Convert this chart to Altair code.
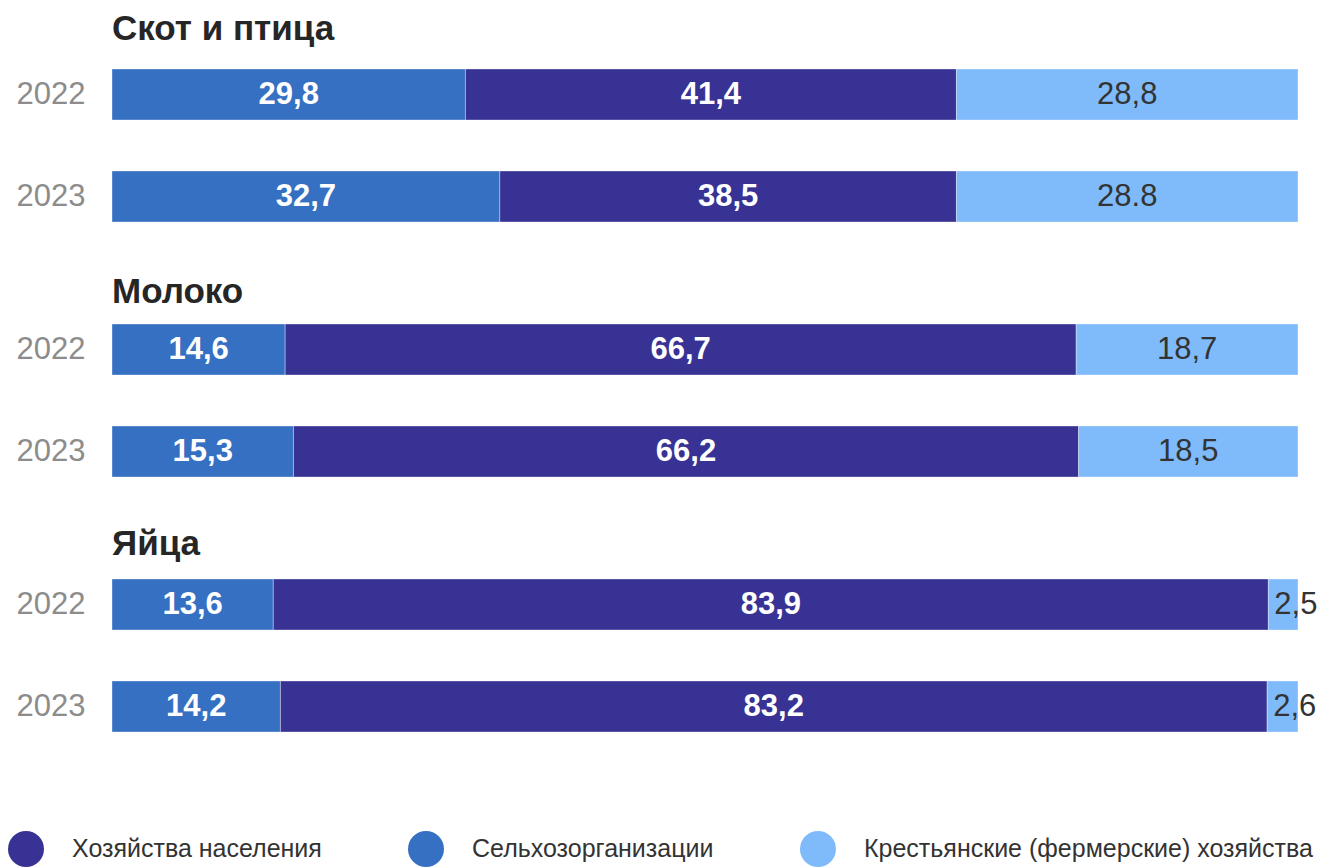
import altair as alt
import pandas as pd

groups = ["Скот и птица", "Молоко", "Яйца"]
years = ["2022", "2023"]
categories = ["Сельхозорганизации", "Хозяйства населения", "Крестьянские (фермерские) хозяйства"]
legend_order = ["Хозяйства населения", "Сельхозорганизации", "Крестьянские (фермерские) хозяйства"]
colors = ["#373294", "#3670C2", "#7FBBFA"]

# values in order: group x year
selhoz = [29.8, 32.7, 14.6, 15.3, 13.6, 14.2]
naselenie = [41.4, 38.5, 66.7, 66.2, 83.9, 83.2]
fermer = [28.8, 28.8, 18.7, 18.5, 2.5, 2.6]
selhoz_labels = ["29,8", "32,7", "14,6", "15,3", "13,6", "14,2"]
naselenie_labels = ["41,4", "38,5", "66,7", "66,2", "83,9", "83,2"]
fermer_labels = ["28,8", "28.8", "18,7", "18,5", "2,5", "2,6"]

rows = []
series = [(selhoz, selhoz_labels), (naselenie, naselenie_labels), (fermer, fermer_labels)]
i = 0
for g in groups:
    for y in years:
        for k, (vals, labs) in enumerate(series):
            rows.append({"group": g, "year": y, "category": categories[k],
                         "order": k, "value": vals[i], "label": labs[i]})
        i += 1
df = pd.DataFrame(rows)

FONT = "Liberation Sans"
title_offsets = [-6, -14, -11]


def panel(g, title_offset):
    base = (
        alt.Chart(df)
        .transform_filter(alt.datum.group == g)
        .transform_stack(stack="value", groupby=["group", "year"], as_=["x0", "x1"],
                         sort=[alt.SortField("order", order="ascending")])
        .transform_calculate(mid="(datum.x0 + datum.x1) / 2")
    )
    yenc = alt.Y("year:N", title=None,
                 scale=alt.Scale(paddingInner=0.5, paddingOuter=0),
                 axis=alt.Axis(domain=False, ticks=False, labelFontSize=31, labelFont=FONT,
                               labelColor="#8c8c8c", labelPadding=27))
    xscale = alt.Scale(domain=[0, 100], nice=False)
    bars = base.mark_bar(stroke="#ffffff", strokeWidth=1, strokeOpacity=0.35).encode(
        x=alt.X("x0:Q", scale=xscale, axis=None),
        x2="x1:Q",
        y=yenc,
        color=alt.Color("category:N",
                        scale=alt.Scale(domain=legend_order, range=colors),
                        legend=alt.Legend(title=None, orient="none", direction="horizontal",
                                          legendX=-104, legendY=762,
                                          symbolType="circle", symbolSize=1296,
                                          symbolStrokeWidth=0, symbolOpacity=1,
                                          labelFontSize=25, labelFont=FONT, labelColor="#333333",
                                          labelOffset=28, columnPadding=86, labelLimit=1000)),
    )
    bold = base.transform_filter(alt.datum.order < 2).mark_text(
        font=FONT, fontSize=31, fontWeight="bold", color="#ffffff", align="center", baseline="middle"
    ).encode(x=alt.X("mid:Q", scale=xscale), y=yenc, text="label:N")
    wide = base.transform_filter((alt.datum.order == 2) & (alt.datum.value >= 5)).mark_text(
        font=FONT, fontSize=31, color="#333333", align="center", baseline="middle"
    ).encode(x=alt.X("mid:Q", scale=xscale), y=yenc, text="label:N")
    narrow = base.transform_filter((alt.datum.order == 2) & (alt.datum.value < 5)).mark_text(
        font=FONT, fontSize=31, color="#333333", align="left", baseline="middle", dx=6
    ).encode(x=alt.X("x0:Q", scale=xscale), y=yenc, text="label:N")
    return alt.layer(bars, bold, wide, narrow).properties(
        width=1186, height=153,
        title=alt.TitleParams(text=g, anchor="start", frame="group", fontSize=35, fontWeight="bold",
                              font=FONT, color="#262626", baseline="alphabetic", offset=title_offset),
    )


chart = (
    alt.vconcat(*[panel(g, o) for g, o in zip(groups, title_offsets)], spacing=102, bounds="flush")
    .resolve_scale(color="shared")
    .properties(padding={"left": 0, "top": 3, "right": 0, "bottom": 0})
    .configure_view(stroke=None)
)

chart.save("out.html", embed_options={"renderer": "svg", "actions": False})
